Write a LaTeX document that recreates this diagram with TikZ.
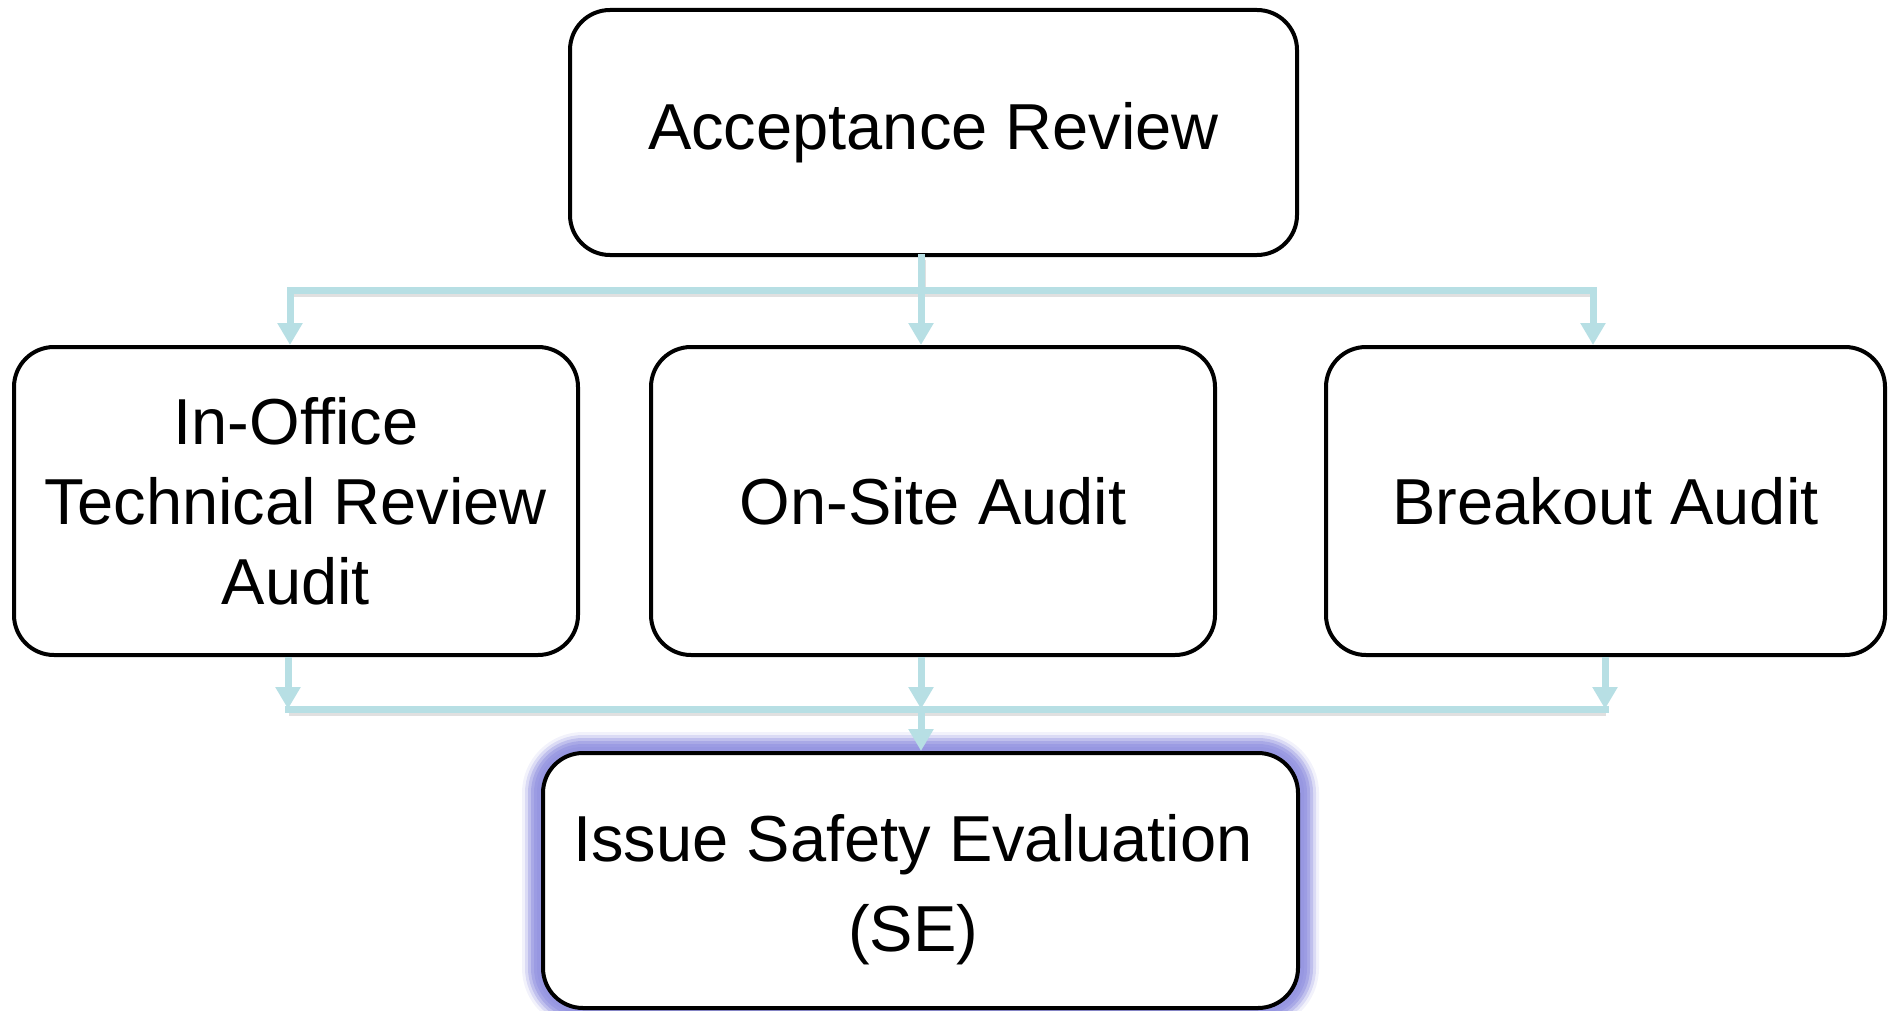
\documentclass[tikz,border=0pt]{standalone}
\usepackage{fontspec}
\setmainfont{Liberation Sans}
\usetikzlibrary{arrows.meta,calc}
\definecolor{connc}{RGB}{183,223,228}
\definecolor{glowc}{RGB}{150,150,225}
\begin{document}
\begin{tikzpicture}[x=0.5pt,y=-0.5pt,
  box/.style={draw=black,line width=2pt,rounded corners=20pt,fill=white,inner sep=0pt,align=center,
    font=\fontsize{32.5pt}{40pt}\selectfont},
  conn/.style={draw=connc,line width=3.5pt,line cap=rect,
    preaction={draw=black,draw opacity=0.12,line width=3.5pt,transform canvas={yshift=-1.5pt,xshift=0.5pt}}},
  arr/.style={draw=connc,line width=3.5pt,-{Triangle[width=12pt,length=11pt]}}]
\useasboundingbox (0,0) rectangle (1895,1011);
% glow behind SE box
\foreach \w/\o in {42/0.12,36/0.25,30/0.4,24/0.55,18/0.7,12/0.85}{
  \draw[glowc,line width=\w*0.5pt,draw opacity=\o,rounded corners=20pt] (543,753) rectangle (1298,1008);
}
\node[box,minimum width=363.5pt,minimum height=122.5pt] (ar) at (933.5,132.5) {Acceptance Review};
\node[box,minimum width=282pt,minimum height=154pt] (io) at (296,501) {In-Office\\Technical Review\\Audit};
\node[box,minimum width=282pt,minimum height=154pt] (os) at (933,501) {On-Site Audit};
\node[box,minimum width=279.5pt,minimum height=154pt] (bo) at (1605.5,501) {Breakout Audit};
\node[box,minimum width=377.5pt,minimum height=127.5pt] (se) at (920.5,880.5) {};
\node[align=center,inner sep=0pt,font=\fontsize{32.5pt}{45pt}\selectfont] (setext) at (913,890) {Issue Safety Evaluation\\(SE)};
% top bus
\coordinate (tl) at (290,290);
\coordinate (tc) at (921,290);
\coordinate (tr) at (1593,290);
\draw[conn] (ar.south -| tc) -- (tc);
\draw[conn] (tl) -- (tr);
\draw[arr] (tl) -- (tl |- io.north);
\draw[arr] (tc) -- (tc |- os.north);
\draw[arr] (tr) -- (tr |- bo.north);
% bottom bus
\coordinate (bl) at (288,709);
\coordinate (bc) at (921,709);
\coordinate (br) at (1605,709);
\draw[conn] (bl) -- (br);
\draw[arr] (io.south -| bl) -- (bl);
\draw[arr] (os.south -| bc) -- (bc);
\draw[arr] (bo.south -| br) -- (br);
\draw[arr] (bc) -- (bc |- se.north);
\end{tikzpicture}
\end{document}
